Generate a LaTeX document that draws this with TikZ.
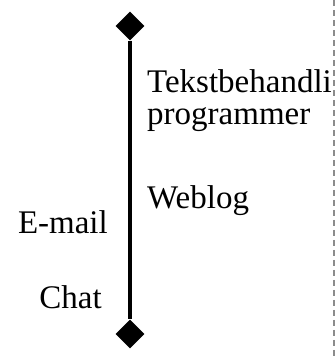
\documentclass[tikz,border=0pt]{standalone}
\usepackage{fontspec}
\setmainfont{Liberation Serif}
\usetikzlibrary{shapes.geometric}
\definecolor{dashgray}{RGB}{140,140,140}
\tikzset{
  lbl/.style={inner sep=0pt, font=\fontsize{33}{32}\selectfont},
  endmark/.style={diamond, fill=black, draw=none, minimum size=29pt, inner sep=0pt},
  axisline/.style={line width=4pt, black},
  border/.style={dashgray, line width=2.2pt, dash pattern=on 6pt off 4pt}
}
\begin{document}
\begin{tikzpicture}[x=1pt,y=1pt]
  \useasboundingbox (0,0) rectangle (335,360);
  \node[endmark] (dtop) at (130,334) {};
  \node[endmark] (dbot) at (130,26) {};
  \draw[axisline] (dtop) -- (dbot);
  \coordinate (b1) at (334,360);
  \coordinate (b2) at (334,0);
  \draw[border] (b1) -- (b2);
  \begin{scope}
    \clip (0,0) rectangle (332.5,360);
    \node[lbl, anchor=base west] (tekst1) at (147,268) {Tekstbehandli};
    \node[lbl, anchor=base west] (tekst2) at (147,236) {programmer};
    \node[lbl, anchor=base west] (weblog) at (147,152) {Weblog};
    \node[lbl, anchor=base east] (email) at (108,127) {E-mail};
    \node[lbl, anchor=base east] (chat) at (102,52) {Chat};
  \end{scope}
\end{tikzpicture}
\end{document}
